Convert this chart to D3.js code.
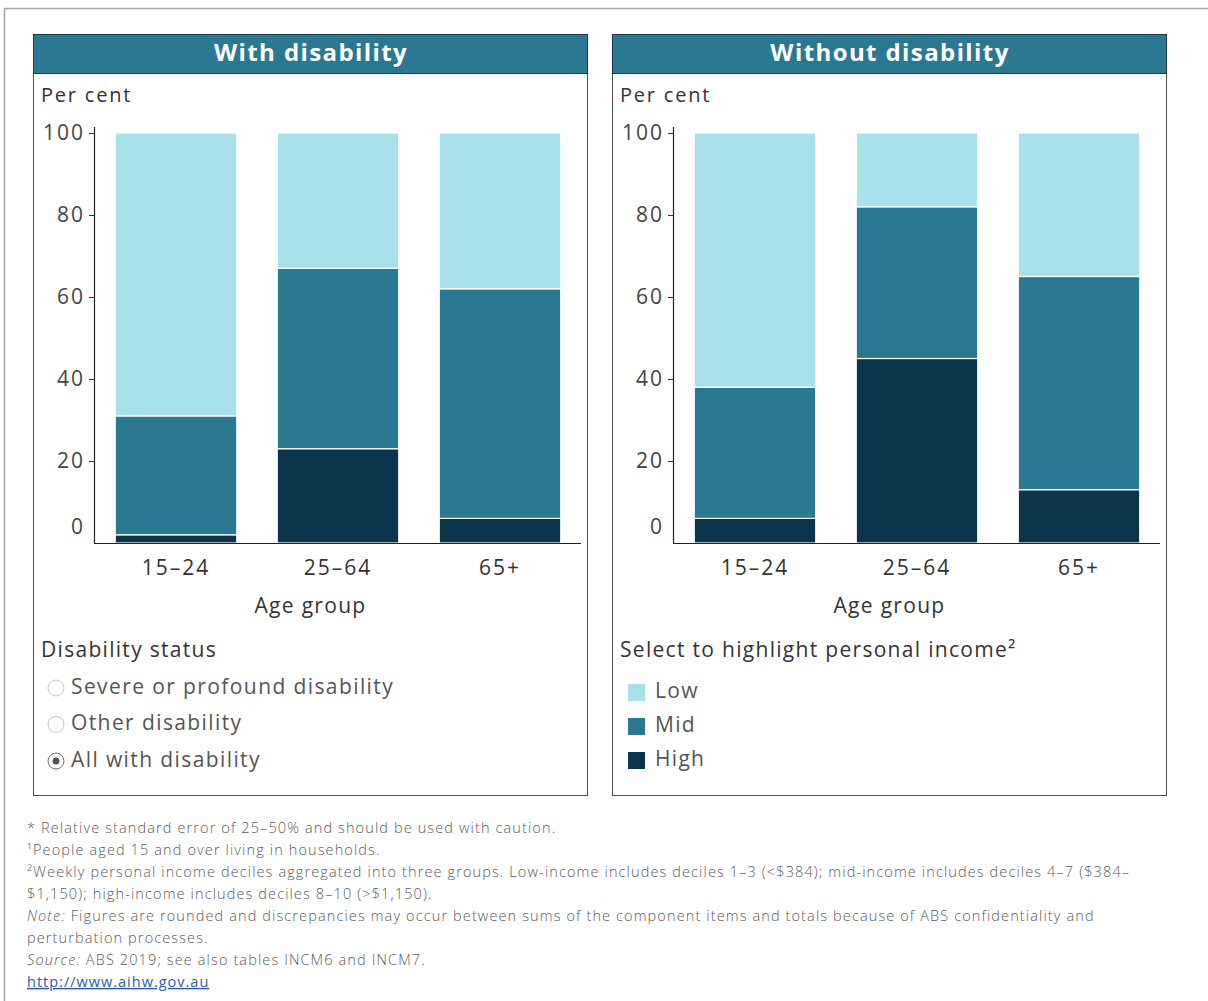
<!DOCTYPE html>
<html>
<head>
<meta charset="utf-8">
<script src="https://cdn.jsdelivr.net/npm/d3@7"></script>
<style>
  body { margin: 0; background: #fff; }
  text { font-family: "Open Sans", "Noto Sans", sans-serif; }
</style>
</head>
<body>
<svg id="chart" width="1208" height="1001"></svg>
<script>
// values (per cent of each age group)
var ageGroups = ['15–24', '25–64', '65+'];
var incomeLevels = ['High', 'Mid', 'Low'];   // bottom to top
var legendLevels = ['Low', 'Mid', 'High'];
var withHigh = [2, 23, 6];
var withMid = [29, 44, 56];
var withLow = [69, 33, 38];
var withoutHigh = [6, 45, 13];
var withoutMid = [32, 37, 52];
var withoutLow = [62, 18, 35];
var yTicks = [0, 20, 40, 60, 80, 100];
var radioOptions = ['Severe or profound disability', 'Other disability', 'All with disability'];

var colors = { 'Low': '#a9e1ea', 'Mid': '#2a7891', 'High': '#0b3349' };

var footnotes = [
    [{ t: '* Relative standard error of 25–50% and should be used with caution.' }],
    [{ t: '¹People aged 15 and over living in households.' }],
    [{ t: '²Weekly personal income deciles aggregated into three groups. Low-income includes deciles 1–3 (<$384); mid-income includes deciles 4–7 ($384–' }],
    [{ t: '$1,150); high-income includes deciles 8–10 (>$1,150).' }],
    [{ t: 'Note:', i: true }, { t: ' Figures are rounded and discrepancies may occur between sums of the component items and totals because of ABS confidentiality and' }],
    [{ t: 'perturbation processes.' }],
    [{ t: 'Source:', i: true }, { t: ' ABS 2019; see also tables INCM6 and INCM7.' }]
];

function toRows(high, mid, low) {
    return ageGroups.map(function (g, i) {
        return { age: g, High: high[i], Mid: mid[i], Low: low[i] };
    });
}

var panels = [
    { title: 'With disability', x: 33, rows: toRows(withHigh, withMid, withLow) },
    { title: 'Without disability', x: 612, rows: toRows(withoutHigh, withoutMid, withoutLow) }
];

var svg = d3.select('#chart');

// outer frame
svg.append('rect')
    .attr('x', 4.5).attr('y', 8.5)
    .attr('width', 1240).attr('height', 1100)
    .attr('fill', 'none').attr('stroke', '#a6a6a6').attr('stroke-width', 1.5);

var panelW = 554, panelTop = 34, panelBottom = 795, headerH = 39;
var axisX = 61;        // relative to panel
var baseY = 543;
var sp = 1.3;          // the original font runs wide

var y = d3.scaleLinear().domain([0, 100]).range([baseY, 133]);
var stack = d3.stack().keys(incomeLevels);

panels.forEach(function (p, pi) {
    var g = svg.append('g').attr('transform', 'translate(' + p.x + ',0)');

    g.append('rect')
        .attr('x', 0.5).attr('y', panelTop + 0.5)
        .attr('width', panelW).attr('height', panelBottom - panelTop)
        .attr('fill', '#fff').attr('stroke', '#4d4d4d').attr('stroke-width', 1);
    g.append('rect')
        .attr('x', 0.5).attr('y', panelTop + 0.5)
        .attr('width', panelW).attr('height', headerH)
        .attr('fill', '#2a7891').attr('stroke', '#1f3b47').attr('stroke-width', 1);
    g.append('text')
        .attr('x', panelW / 2 + 1).attr('y', panelTop + headerH / 2 + 1)
        .attr('text-anchor', 'middle').attr('dominant-baseline', 'middle')
        .attr('fill', '#fff').attr('font-size', 24).attr('font-weight', 'bold')
        .attr('letter-spacing', 1.4)
        .text(p.title);

    g.append('text')
        .attr('x', 8).attr('y', 97)
        .attr('dominant-baseline', 'middle')
        .attr('fill', '#333').attr('font-size', 20).attr('letter-spacing', 1.8)
        .text('Per cent');

    var x = d3.scaleBand()
        .domain(ageGroups)
        .range([axisX + 1, axisX + 487])
        .paddingInner(0.25).paddingOuter(0.125);

    var series = stack(p.rows);
    g.append('g')
        .selectAll('g')
        .data(series)
        .enter()
        .append('g')
        .attr('fill', function (d) { return colors[d.key]; })
        .selectAll('rect')
        .data(function (d) { return d; })
        .enter()
        .append('rect')
        .attr('x', function (d) { return x(d.data.age); })
        .attr('y', function (d) { return y(d[1]); })
        .attr('width', x.bandwidth())
        .attr('height', function (d) { return y(d[0]) - y(d[1]); })
        .attr('stroke', '#fff').attr('stroke-width', 1.2);

    // y axis
    var yAxis = d3.axisLeft(y).tickValues(yTicks).tickSize(5).tickSizeOuter(0).tickPadding(4);
    var ya = g.append('g').attr('transform', 'translate(' + axisX + ',0)').call(yAxis);
    ya.select('.domain').remove();
    ya.selectAll('.tick line').attr('stroke', '#333');
    ya.selectAll('.tick text')
        .attr('font-size', 21).attr('fill', '#444').attr('letter-spacing', 2)
        .attr('font-family', '"Open Sans", sans-serif');
    ya.selectAll('.tick').filter(function (d) { return d === 0; }).each(function () {
        d3.select(this).select('line').remove();
        d3.select(this).select('text').attr('dy', '-0.45em');
    });
    g.append('line')
        .attr('x1', axisX + 0.5).attr('x2', axisX + 0.5)
        .attr('y1', 127).attr('y2', baseY + 1)
        .attr('stroke', '#222').attr('stroke-width', 1.2);

    // x axis
    g.append('line')
        .attr('x1', axisX).attr('x2', axisX + 487)
        .attr('y1', baseY + 0.5).attr('y2', baseY + 0.5)
        .attr('stroke', '#222').attr('stroke-width', 1.2);
    g.append('g')
        .selectAll('text')
        .data(ageGroups)
        .enter()
        .append('text')
        .attr('x', function (d) { return x(d) + x.bandwidth() / 2; })
        .attr('y', 569)
        .attr('text-anchor', 'middle').attr('dominant-baseline', 'middle')
        .attr('font-size', 21).attr('fill', '#333').attr('letter-spacing', 2)
        .text(function (d) { return d; });
    g.append('text')
        .attr('x', axisX + 487 / 2 - 27).attr('y', 607)
        .attr('text-anchor', 'middle').attr('dominant-baseline', 'middle')
        .attr('font-size', 21).attr('fill', '#333').attr('letter-spacing', sp)
        .text('Age group');

    if (pi === 0) {
        g.append('text')
            .attr('x', 8).attr('y', 651)
            .attr('dominant-baseline', 'middle')
            .attr('font-size', 21).attr('fill', '#333').attr('letter-spacing', sp)
            .text('Disability status');
        var r = g.append('g')
            .selectAll('g')
            .data(radioOptions)
            .enter()
            .append('g')
            .attr('transform', function (d, i) { return 'translate(0,' + (688 + i * 36.5) + ')'; });
        r.append('circle')
            .attr('cx', 23).attr('cy', 0).attr('r', 8)
            .attr('fill', '#fff').attr('stroke', '#c4c4c4').attr('stroke-width', 1);
        r.filter(function (d, i) { return i === 2; })
            .select('circle').attr('stroke', '#777');
        r.filter(function (d, i) { return i === 2; })
            .append('circle')
            .attr('cx', 23).attr('cy', 0).attr('r', 3.5).attr('fill', '#555');
        r.append('text')
            .attr('x', 38).attr('y', 0)
            .attr('dominant-baseline', 'middle')
            .attr('font-size', 21).attr('fill', '#555').attr('letter-spacing', 1.4)
            .text(function (d) { return d; });
    } else {
        g.append('text')
            .attr('x', 8).attr('y', 651)
            .attr('dominant-baseline', 'middle')
            .attr('font-size', 21).attr('fill', '#333').attr('letter-spacing', sp)
            .text('Select to highlight personal income²');
        var lg = g.append('g')
            .selectAll('g')
            .data(legendLevels)
            .enter()
            .append('g')
            .attr('transform', function (d, i) { return 'translate(0,' + (692 + i * 34) + ')'; });
        lg.append('rect')
            .attr('x', 16).attr('y', -8).attr('width', 17).attr('height', 17)
            .attr('fill', function (d) { return colors[d]; });
        lg.append('text')
            .attr('x', 43).attr('y', 0)
            .attr('dominant-baseline', 'middle')
            .attr('font-size', 21).attr('fill', '#555').attr('letter-spacing', sp)
            .text(function (d) { return d; });
    }
});

// footnotes
var fn = svg.append('g').attr('transform', 'translate(27,0)');
footnotes.forEach(function (line, i) {
    var t = fn.append('text')
        .attr('x', 0).attr('y', 829 + i * 22)
        .attr('dominant-baseline', 'middle')
        .attr('font-size', 14.5).attr('fill', '#5a5a5a').attr('font-weight', 300)
        .attr('letter-spacing', 1.12);
    line.forEach(function (part) {
        t.append('tspan')
            .attr('font-style', part.i ? 'italic' : null)
            .text(part.t);
    });
});
fn.append('text')
    .attr('x', 0).attr('y', 983)
    .attr('dominant-baseline', 'middle')
    .attr('font-size', 14.5).attr('fill', '#2a5db0').attr('letter-spacing', 1.0)
    .attr('text-decoration', 'underline')
    .text('http://www.aihw.gov.au');
</script>
</body>
</html>
